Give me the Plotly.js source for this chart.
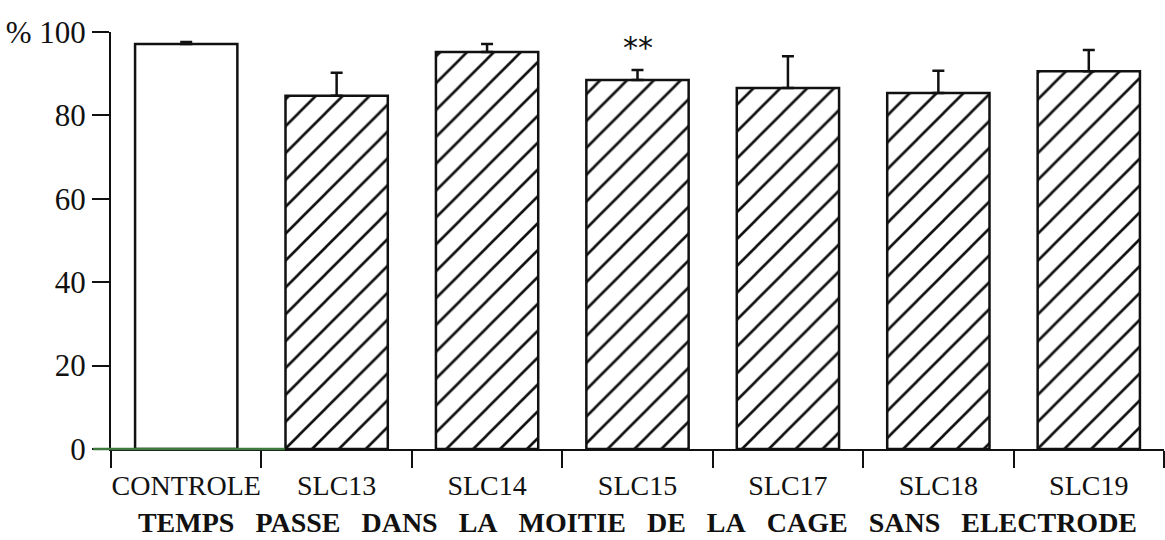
<!DOCTYPE html>
<html>
<head>
<meta charset="utf-8">
<script src="https://cdn.plot.ly/plotly-3.0.1.min.js"></script>
<style>html,body{margin:0;padding:0;background:#fff;}#chart{width:1165px;height:540px;}</style>
</head>
<body>
<div id="chart"></div>
<script>
const categories = ["CONTROLE", "SLC13", "SLC14", "SLC15", "SLC17", "SLC18", "SLC19"];
const means = [97.1, 84.7, 95.2, 88.5, 86.6, 85.4, 90.6];
const errorsUp = [0.5, 5.5, 1.9, 2.4, 7.6, 5.3, 5.1];
const patternShapes = ["", "/", "/", "/", "/", "/", "/"];
const yTickVals = [0, 20, 40, 60, 80, 100];
const yTickText = ["0", "20", "40", "60", "80", "%\u00A0100"];
const titleWords = ["TEMPS", "PASSE", "DANS", "LA", "MOITIE", "DE", "LA", "CAGE", "SANS", "ELECTRODE"];
const significance = {category: "SLC15", y: 96.4, text: "**"};

const serif = "Liberation Serif, DejaVu Serif, serif";
const xTitle = titleWords.join("\u00A0\u00A0\u00A0");

const trace = {
  type: "bar",
  x: categories,
  y: means,
  width: 0.68,
  marker: {
    color: "#ffffff",
    line: {color: "#111111", width: 2.5},
    pattern: {shape: patternShapes, fgcolor: "#111111", bgcolor: "#ffffff", size: 19, solidity: 0.14}
  },
  error_y: {
    type: "data",
    symmetric: false,
    array: errorsUp,
    arrayminus: errorsUp.map(() => 0),
    color: "#111111",
    thickness: 2.5,
    width: 6
  },
  hoverinfo: "none"
};

const layout = {
  width: 1165,
  height: 540,
  margin: {l: 111, r: 1, t: 32, b: 91},
  paper_bgcolor: "#ffffff",
  plot_bgcolor: "#ffffff",
  showlegend: false,
  font: {family: serif, color: "#111111", size: 26},
  xaxis: {
    type: "category",
    range: [-0.5, 6.5],
    showgrid: false,
    zeroline: false,
    showline: true,
    linecolor: "#111111",
    linewidth: 2,
    ticks: "outside",
    tickson: "boundaries",
    ticklen: 17,
    tickwidth: 2,
    tickcolor: "#111111",
    tickangle: 0,
    ticklabelstandoff: 10,
    tickfont: {family: serif, size: 28, color: "#111111"},
    title: {text: xTitle, font: {family: serif, size: 28, color: "#111111", weight: "bold"}, standoff: 13},
    fixedrange: true
  },
  yaxis: {
    range: [0, 100],
    tickvals: yTickVals,
    ticktext: yTickText,
    showgrid: false,
    zeroline: false,
    showline: true,
    linecolor: "#111111",
    linewidth: 2,
    ticks: "outside",
    ticklen: 17,
    tickwidth: 2,
    tickcolor: "#111111",
    tickfont: {family: serif, size: 31, color: "#111111"},
    fixedrange: true
  },
  shapes: [
    {type: "line", xref: "paper", yref: "paper", x0: -0.017, x1: 0.165, y0: 0, y1: 0,
     layer: "above", line: {color: "#3d7a3d", width: 2.5}}
  ],
  annotations: [
    {x: significance.category, y: significance.y, xref: "x", yref: "y", text: significance.text,
     showarrow: false, font: {family: "DejaVu Sans, sans-serif", size: 30, color: "#111111"}}
  ]
};

Plotly.newPlot("chart", [trace], layout, {staticPlot: true, displayModeBar: false});
</script>
</body>
</html>
